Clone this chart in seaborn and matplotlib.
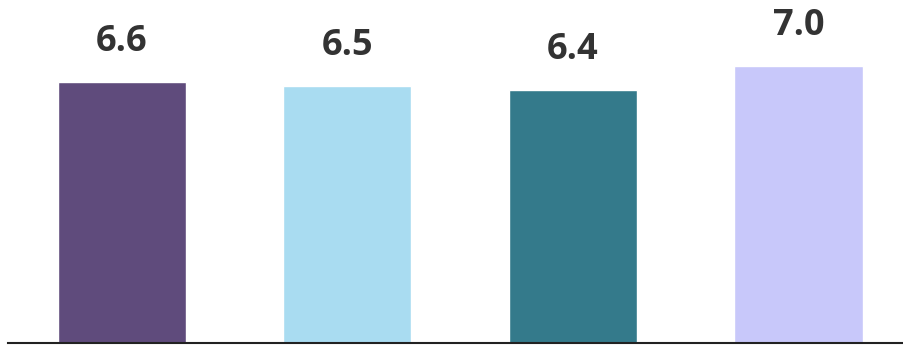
import matplotlib
matplotlib.use("Agg")
import matplotlib.pyplot as plt
import seaborn as sns
import pandas as pd

categories = ["A", "B", "C", "D"]
values = [6.6, 6.5, 6.4, 7.0]
colors = ["#5f4b7c", "#a9dcf1", "#347a8b", "#c8c8fa"]

sns.set_style("white")
plt.rcParams["font.family"] = ["Open Sans", "DejaVu Sans"]

df = pd.DataFrame({"cat": categories, "val": values})

fig = plt.figure(figsize=(9.04, 3.47), dpi=100)
ax = fig.add_axes([8 / 904, 4 / 347, 1 - 8 / 904, 343 / 347])
sns.barplot(data=df, x="cat", y="val", hue="cat", palette=colors,
            width=0.568, legend=False, ax=ax, saturation=1)

for i, v in enumerate(values):
    ax.annotate(f"{v:.1f}", (i, v), xytext=(0, 15.5), textcoords="offset points",
                ha="center", va="bottom", fontsize=26, fontweight="bold",
                color="#333333")

ax.set_xlim(-0.505, 3.468)
ax.set_ylim(0, 8.66)
ax.set_xlabel("")
ax.set_ylabel("")
ax.set_xticks([])
ax.set_yticks([])
for s in ["top", "right", "left"]:
    ax.spines[s].set_visible(False)
ax.spines["bottom"].set_color("#222222")
ax.spines["bottom"].set_linewidth(1.5)

fig.savefig("out.png", dpi=100)
